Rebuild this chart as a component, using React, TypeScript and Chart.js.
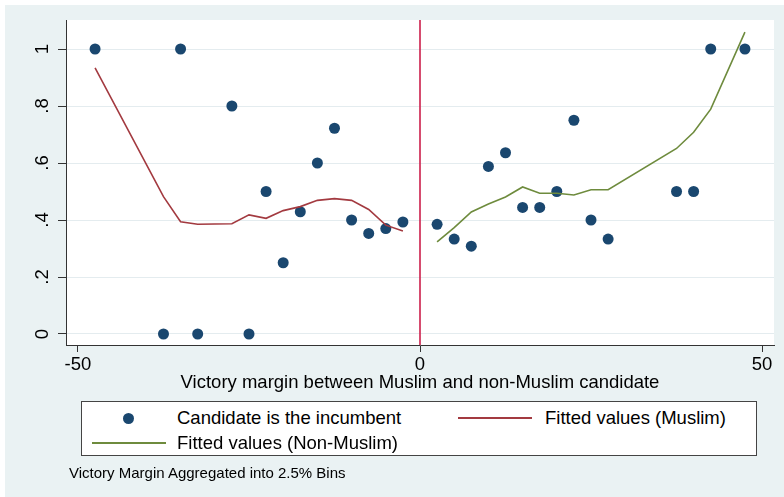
import { useEffect, useRef } from "react";
import { Chart, registerables } from "chart.js";

Chart.register(...registerables);

const FONT = '"Liberation Sans", Arial, Helvetica, sans-serif';

// ---- data ----
const incumbentX = [-47.5, -37.5, -35, -32.5, -27.5, -25, -22.5, -20, -17.5, -15, -12.5, -10, -7.5, -5, -2.5,
  2.5, 5, 7.5, 10, 12.5, 15, 17.5, 20, 22.5, 25, 27.5, 37.5, 40, 42.5, 47.5];
const incumbentY = [1, 0, 1, 0, 0.8, 0, 0.5, 0.25, 0.429, 0.6, 0.722, 0.4, 0.353, 0.37, 0.393,
  0.385, 0.333, 0.308, 0.588, 0.636, 0.444, 0.444, 0.5, 0.75, 0.4, 0.333, 0.5, 0.5, 1, 1];

const muslimFitX = [-47.5, -37.5, -35, -32.5, -27.5, -25, -22.5, -20, -17.5, -15, -12.5, -10, -7.5, -5, -2.5];
const muslimFitY = [0.934, 0.482, 0.394, 0.385, 0.387, 0.418, 0.406, 0.433, 0.447, 0.469, 0.475, 0.469, 0.437, 0.382, 0.361];

const nonMuslimFitX = [2.5, 5, 7.5, 10, 12.5, 15, 17.5, 20, 22.5, 25, 27.5, 37.5, 40, 42.5, 47.5];
const nonMuslimFitY = [0.323, 0.373, 0.428, 0.456, 0.481, 0.516, 0.494, 0.494, 0.488, 0.506, 0.506, 0.651, 0.708, 0.789, 1.059];

const xTicks = [-50, 0, 50];
const xTickLabels = ["-50", "0", "50"];
const yTicks = [0, 0.2, 0.4, 0.6, 0.8, 1];
const yTickLabels = ["0", ".2", ".4", ".6", ".8", "1"];
const xRange = [-51.75, 51.75];
const yRange = [-0.0386, 1.1018];
const CUTOFF = 0;

const X_TITLE = "Victory margin between Muslim and non-Muslim candidate";
const LEGEND_LABELS = ["Candidate is the incumbent", "Fitted values (Muslim)", "Fitted values (Non-Muslim)"];
const NOTE = "Victory Margin Aggregated into 2.5% Bins";

// ---- styles ----
const DOT_COLOR = "#1a476f";
const MUSLIM_COLOR = "#a33a40";
const NONMUSLIM_COLOR = "#6e8b3d";
const CUTOFF_COLOR = "#cc1f4b";
const OUTER_BG = "#eaf2f3";
const GRID_COLOR = "#e4ecef";
const AXIS_COLOR = "#333";

const zip = (xs: number[], ys: number[]) => xs.map((x, i) => ({ x, y: ys[i] }));

const stataPlugin = {
  id: "stataPlot",
  beforeDraw(chart: any) {
    const { ctx, chartArea: a } = chart;
    ctx.save();
    ctx.fillStyle = "#ffffff";
    ctx.fillRect(a.left, a.top, a.right - a.left, a.bottom - a.top);
    ctx.restore();
  },
  beforeDatasetsDraw(chart: any) {
    const { ctx, chartArea: a } = chart;
    const px = chart.scales.x.getPixelForValue(CUTOFF);
    ctx.save();
    ctx.strokeStyle = CUTOFF_COLOR;
    ctx.lineWidth = 1.6;
    ctx.beginPath();
    ctx.moveTo(px, a.top);
    ctx.lineTo(px, a.bottom);
    ctx.stroke();
    ctx.restore();
  },
  afterDraw(chart: any) {
    const { ctx } = chart;
    const ys = chart.scales.y;
    ctx.save();
    ctx.font = `18.5px ${FONT}`;
    ctx.fillStyle = "#000";
    ctx.textAlign = "center";
    ctx.textBaseline = "middle";
    yTicks.forEach((v, i) => {
      const py = ys.getPixelForValue(v);
      ctx.save();
      ctx.translate(ys.right - 23, py);
      ctx.rotate(-Math.PI / 2);
      ctx.fillText(yTickLabels[i], 0, 0);
      ctx.restore();
    });
    ctx.restore();
  },
};

export default function App() {
  const ref = useRef<HTMLCanvasElement>(null);

  useEffect(() => {
    if (!ref.current) return;
    const chart = new Chart(ref.current, {
      type: "scatter",
      data: {
        datasets: [
          {
            label: LEGEND_LABELS[0],
            data: zip(incumbentX, incumbentY),
            backgroundColor: DOT_COLOR,
            borderColor: DOT_COLOR,
            pointRadius: 5.5,
            pointBorderWidth: 0,
            showLine: false,
            order: 3,
          },
          {
            label: LEGEND_LABELS[1],
            data: zip(muslimFitX, muslimFitY),
            borderColor: MUSLIM_COLOR,
            backgroundColor: MUSLIM_COLOR,
            borderWidth: 1.6,
            pointRadius: 0,
            showLine: true,
            tension: 0,
            order: 2,
          },
          {
            label: LEGEND_LABELS[2],
            data: zip(nonMuslimFitX, nonMuslimFitY),
            borderColor: NONMUSLIM_COLOR,
            backgroundColor: NONMUSLIM_COLOR,
            borderWidth: 1.6,
            pointRadius: 0,
            showLine: true,
            tension: 0,
            order: 1,
          },
        ],
      },
      options: {
        animation: false,
        responsive: false,
        layout: { padding: { top: 20, right: 10, left: 0, bottom: 0 } },
        plugins: { legend: { display: false }, tooltip: { enabled: false } },
        scales: {
          x: {
            type: "linear",
            min: xRange[0],
            max: xRange[1],
            afterBuildTicks: (s: any) => {
              s.ticks = xTicks.map((value) => ({ value }));
            },
            afterFit: (s: any) => {
              s.height = 152;
            },
            ticks: {
              color: "#000",
              font: { size: 18.5, family: FONT },
              padding: 2,
              maxRotation: 0,
              autoSkip: false,
              callback: (_v: any, i: number) => xTickLabels[i],
            },
            grid: { drawOnChartArea: false, drawTicks: true, tickColor: AXIS_COLOR, tickLength: 7, tickWidth: 1 },
            border: { color: AXIS_COLOR, width: 1 },
            title: {
              display: true,
              text: X_TITLE,
              color: "#000",
              font: { size: 18.5, family: FONT },
              padding: { top: 0, bottom: 103 },
            },
          },
          y: {
            type: "linear",
            min: yRange[0],
            max: yRange[1],
            afterBuildTicks: (s: any) => {
              s.ticks = yTicks.map((value) => ({ value }));
            },
            afterFit: (s: any) => {
              s.width = 66;
            },
            ticks: {
              color: "rgba(0,0,0,0)",
              font: { size: 18.5, family: FONT },
              autoSkip: false,
              callback: (_v: any, i: number) => yTickLabels[i],
            },
            grid: { color: GRID_COLOR, lineWidth: 1, drawTicks: true, tickColor: AXIS_COLOR, tickLength: 8, tickWidth: 1 },
            border: { color: AXIS_COLOR, width: 1 },
          },
        },
      },
      plugins: [stataPlugin],
    } as any);
    return () => chart.destroy();
  }, []);

  const box = { left: 81, top: 401 };
  const text18: any = { position: "absolute", fontSize: "18.5px", lineHeight: "22px", color: "#000", whiteSpace: "nowrap" };

  return (
    <div style={{ position: "fixed", left: 0, top: 0, width: 784, height: 497, background: "#fff", overflow: "hidden", fontFamily: FONT }}>
      <div style={{ position: "absolute", left: 5, top: 5, right: 0, bottom: 0, background: OUTER_BG }} />
      <canvas ref={ref} width={784} height={497} style={{ position: "absolute", left: 0, top: 0, width: 784, height: 497 }} />
      <div
        style={{
          position: "absolute",
          left: box.left,
          top: box.top,
          width: 676,
          height: 55,
          boxSizing: "border-box",
          border: "1px solid #444",
          background: "#fff",
        }}
      >
        <div style={{ position: "absolute", left: 128 - 5.5 - box.left - 1, top: 418 - 5.5 - box.top - 1, width: 11, height: 11, borderRadius: "50%", background: DOT_COLOR }} />
        <div style={{ ...text18, left: 177 - box.left - 1, top: 418 - 11 - box.top - 1 }}>{LEGEND_LABELS[0]}</div>
        <div style={{ position: "absolute", left: 458 - box.left - 1, top: 417 - box.top - 1, width: 74, height: 1.6, background: MUSLIM_COLOR }} />
        <div style={{ ...text18, left: 545 - box.left - 1, top: 418 - 11 - box.top - 1 }}>{LEGEND_LABELS[1]}</div>
        <div style={{ position: "absolute", left: 92 - box.left - 1, top: 442 - box.top - 1, width: 74, height: 1.6, background: NONMUSLIM_COLOR }} />
        <div style={{ ...text18, left: 177 - box.left - 1, top: 443 - 11 - box.top - 1 }}>{LEGEND_LABELS[2]}</div>
      </div>
      <div style={{ position: "absolute", left: 69, top: 473 - 9, fontSize: "15px", lineHeight: "18px", color: "#000", whiteSpace: "nowrap" }}>{NOTE}</div>
    </div>
  );
}
